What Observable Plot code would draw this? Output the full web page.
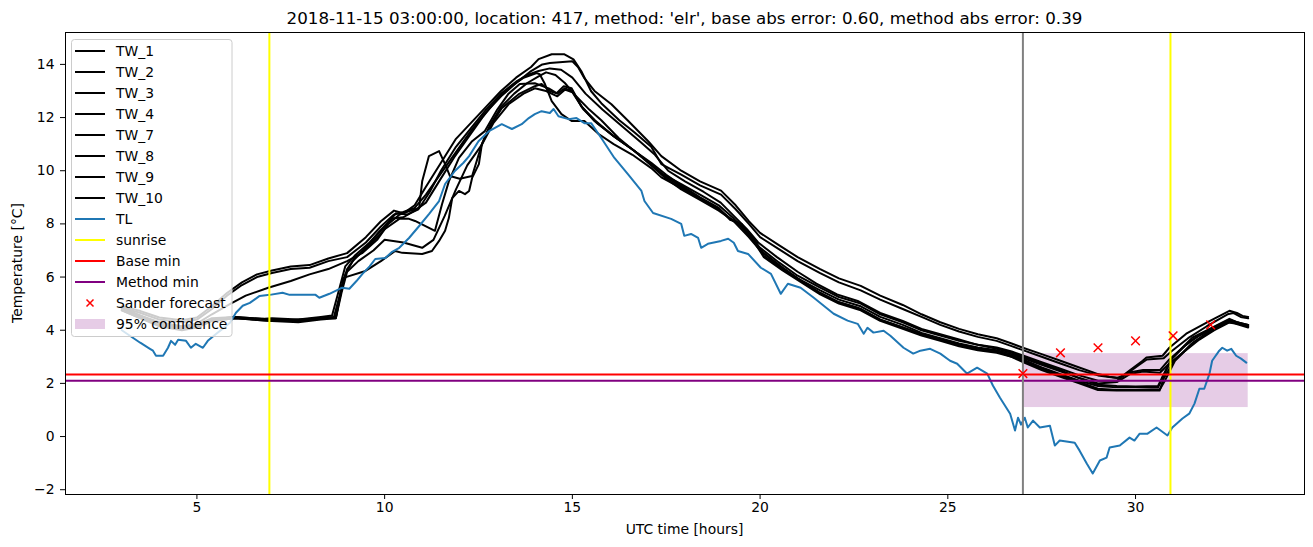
<!DOCTYPE html>
<html><head><meta charset="utf-8">
<script src="https://cdn.jsdelivr.net/npm/d3@7"></script>
<script src="https://cdn.jsdelivr.net/npm/@observablehq/plot@0.6"></script>
<style>
body{margin:0;background:#fff;}
#chart{width:1313px;height:547px;}
svg{font-family:"DejaVu Sans",sans-serif;}
</style>
</head><body><div id="chart"></div>
<script>
// ---- data: [hour, temperature] pairs per road-weather station series ----
const tw1 = [[3.0,4.85],[3.5,4.65],[4.0,4.4],[4.6,4.3],[5.0,4.4],[5.4,4.8],[5.8,5.3],[6.2,5.7],[6.6,6.0],[7.0,6.15],[7.5,6.3],[8.0,6.35],[8.5,6.6],[9.0,6.75],[9.5,7.3],[9.9,7.9],[10.25,8.35],[10.5,8.45],[10.8,8.6],[11.1,9.1],[11.5,9.9],[11.9,10.7],[12.3,11.5],[12.7,12.2],[13.1,12.8],[13.5,13.3],[13.9,13.75],[14.2,14.0],[14.4,14.05],[15.0,14.12],[15.15,13.9],[15.32,13.48],[15.59,13.0],[16.04,12.5],[16.49,11.87],[17.02,11.11],[17.37,10.55],[17.9,10.0],[18.4,9.6],[18.96,9.25],[19.35,8.7],[19.7,8.1],[20.0,7.66],[20.5,7.2],[21.0,6.75],[21.6,6.3],[22.1,5.95],[22.68,5.67],[23.2,5.3],[23.8,4.95],[24.3,4.6],[24.8,4.3],[25.3,4.05],[25.8,3.85],[26.3,3.7],[26.7,3.5],[27.0,3.34],[27.5,3.1],[28.0,2.85],[28.5,2.6],[29.0,2.35],[29.3,2.25],[29.58,2.2],[29.84,2.48],[30.19,2.85],[30.29,2.97],[30.72,3.04],[30.9,3.34],[31.35,3.87],[31.88,4.28],[32.5,4.73],[32.7,4.65],[32.85,4.54],[33.0,4.5]];
const tw2 = [[3.0,4.9],[3.5,4.72],[4.0,4.48],[4.6,4.38],[5.0,4.48],[5.4,4.9],[5.8,5.4],[6.2,5.8],[6.6,6.1],[7.0,6.25],[7.5,6.4],[8.0,6.45],[8.5,6.7],[9.0,6.9],[9.5,7.5],[9.9,8.1],[10.25,8.5],[10.5,8.4],[10.8,8.7],[11.1,9.4],[11.5,10.3],[11.9,11.2],[12.3,11.8],[12.7,12.4],[13.1,13.0],[13.5,13.5],[13.9,13.9],[14.1,14.2],[14.45,14.38],[14.79,14.38],[15.03,14.19],[15.24,13.74],[15.5,12.99],[15.77,12.54],[16.25,11.9],[16.65,11.45],[17.1,10.9],[17.37,10.25],[17.9,9.85],[18.4,9.45],[18.96,9.1],[19.35,8.55],[19.7,8.0],[20.0,7.5],[20.5,7.05],[21.0,6.6],[21.6,6.15],[22.1,5.8],[22.68,5.5],[23.2,5.15],[23.8,4.8],[24.3,4.5],[24.8,4.2],[25.3,3.95],[25.8,3.75],[26.3,3.6],[26.7,3.4],[27.0,3.25],[27.5,3.0],[28.0,2.75],[28.5,2.5],[29.0,2.3],[29.5,2.2],[29.75,2.35],[30.1,2.7],[30.3,2.9],[30.75,2.95],[30.95,3.2],[31.4,3.7],[31.9,4.15],[32.45,4.6],[32.6,4.65],[32.8,4.5],[33.0,4.45]];
const tw3 = [[3.0,4.8],[3.5,4.55],[4.0,4.3],[4.6,4.15],[5.0,4.25],[5.4,4.6],[5.9,5.0],[6.3,5.3],[6.9,5.6],[7.5,5.85],[8.0,6.1],[8.5,6.3],[9.0,6.6],[9.4,6.9],[9.8,7.4],[10.1,8.0],[10.4,8.35],[10.7,8.5],[10.92,8.6],[11.0,9.6],[11.18,10.55],[11.45,10.74],[11.61,10.25],[11.74,9.8],[12.0,9.7],[12.33,9.8],[12.59,11.0],[12.8,11.7],[13.1,12.4],[13.45,12.9],[13.8,13.3],[14.1,13.55],[14.3,13.7],[14.55,13.6],[14.8,13.3],[15.1,12.8],[15.45,12.3],[15.77,11.9],[16.23,11.23],[16.65,10.74],[17.1,10.25],[17.37,9.9],[17.9,9.5],[18.4,9.1],[18.9,8.7],[19.3,8.2],[19.7,7.6],[20.0,7.1],[20.5,6.55],[21.0,6.05],[21.6,5.6],[22.1,5.25],[22.68,5.0],[23.2,4.6],[23.8,4.3],[24.3,4.0],[24.8,3.8],[25.3,3.6],[25.8,3.45],[26.3,3.35],[26.7,3.2],[27.0,3.05],[27.5,2.8],[28.0,2.55],[28.5,2.3],[29.0,2.1],[29.5,2.1],[29.8,2.4],[30.2,2.5],[30.65,2.5],[30.9,2.9],[31.3,3.4],[31.7,3.8],[32.1,4.1],[32.5,4.35],[32.7,4.3],[33.0,4.2]];
const tw4 = [[3.0,4.8],[3.5,4.5],[4.0,4.25],[4.6,4.1],[5.0,4.15],[5.4,4.4],[6.0,4.5],[6.5,4.45],[7.0,4.4],[7.7,4.35],[8.3,4.45],[8.65,4.5],[8.8,5.3],[8.95,6.1],[9.15,6.6],[9.5,7.1],[9.85,7.7],[10.2,8.2],[10.5,8.25],[10.8,8.5],[11.1,8.8],[11.45,9.6],[11.85,10.5],[12.25,11.3],[12.6,12.0],[13.0,12.7],[13.4,13.2],[13.7,13.5],[14.05,13.67],[14.13,13.63],[14.27,13.26],[14.45,12.62],[14.71,12.13],[14.98,11.87],[15.32,11.87],[15.7,11.38],[16.1,11.0],[16.6,10.6],[17.1,10.1],[17.37,9.75],[17.9,9.35],[18.4,8.95],[18.9,8.55],[19.3,8.1],[19.7,7.5],[20.0,7.0],[20.5,6.45],[21.0,5.95],[21.6,5.5],[22.1,5.15],[22.68,4.9],[23.2,4.5],[23.8,4.2],[24.3,3.9],[24.8,3.7],[25.3,3.5],[25.8,3.35],[26.3,3.25],[26.7,3.1],[27.0,2.95],[27.5,2.7],[28.0,2.45],[28.5,2.2],[29.0,2.0],[29.5,2.05],[29.85,2.35],[30.2,2.45],[30.65,2.4],[30.9,2.75],[31.3,3.2],[31.7,3.65],[32.1,4.0],[32.5,4.3],[32.7,4.25],[33.0,4.15]];
const tw7 = [[3.0,4.75],[3.5,4.45],[4.0,4.2],[4.6,4.05],[5.0,4.1],[5.4,4.35],[6.0,4.45],[6.5,4.4],[7.0,4.35],[7.7,4.4],[8.3,4.45],[8.7,4.5],[8.85,5.5],[9.0,6.3],[9.2,6.7],[9.6,7.2],[10.0,7.8],[10.4,8.2],[10.65,8.19],[10.81,8.11],[11.34,7.74],[11.53,8.75],[11.71,9.6],[11.98,10.48],[12.33,11.11],[12.67,11.49],[13.0,12.3],[13.3,12.9],[13.6,13.26],[14.0,13.29],[14.37,13.1],[14.58,12.92],[14.77,13.18],[14.98,13.1],[15.24,12.43],[15.59,11.87],[16.1,11.3],[16.6,10.8],[17.1,10.3],[17.5,9.85],[17.9,9.45],[18.4,9.0],[18.9,8.6],[19.2,8.15],[19.5,8.0],[19.8,7.4],[20.1,6.9],[20.6,6.35],[21.1,5.85],[21.6,5.4],[22.1,5.05],[22.68,4.8],[23.2,4.4],[23.8,4.1],[24.3,3.85],[24.8,3.65],[25.3,3.45],[25.8,3.3],[26.3,3.2],[26.7,3.05],[27.0,2.9],[27.5,2.6],[28.0,2.35],[28.5,2.1],[29.0,1.9],[29.5,1.85],[30.0,1.85],[30.6,1.85],[30.72,2.2],[30.98,2.97],[31.51,3.72],[32.04,4.1],[32.5,4.43],[32.7,4.3],[32.95,4.17]];
const tw8 = [[3.0,4.8],[3.5,4.5],[4.0,4.2],[4.6,4.05],[5.0,4.15],[5.4,4.4],[6.0,4.5],[6.5,4.45],[7.0,4.4],[7.7,4.35],[8.3,4.45],[8.7,4.45],[8.85,5.4],[9.0,6.2],[9.3,6.6],[9.7,7.0],[10.0,7.4],[10.5,7.3],[11.0,7.1],[11.3,7.4],[11.6,8.3],[11.9,9.3],[12.2,10.2],[12.6,11.0],[12.9,11.8],[13.3,12.5],[13.7,12.9],[14.0,13.1],[14.3,13.0],[14.6,12.8],[14.8,13.05],[15.0,12.95],[15.3,12.3],[15.65,11.8],[16.15,11.25],[16.65,10.75],[17.1,10.2],[17.5,9.7],[17.9,9.3],[18.4,8.9],[18.9,8.5],[19.3,8.1],[19.5,7.9],[19.85,7.3],[20.1,6.75],[20.6,6.25],[21.1,5.8],[21.6,5.35],[22.1,5.0],[22.68,4.75],[23.2,4.35],[23.8,4.05],[24.3,3.8],[24.8,3.6],[25.3,3.4],[25.8,3.25],[26.3,3.15],[26.7,3.0],[27.0,2.85],[27.5,2.55],[28.0,2.3],[28.5,2.05],[29.0,1.8],[29.5,1.75],[30.0,1.75],[30.65,1.78],[30.8,2.15],[31.05,2.85],[31.55,3.55],[32.0,4.0],[32.5,4.35],[32.7,4.25],[33.0,4.15]];
const tw9 = [[3.0,4.85],[3.5,4.55],[4.0,4.25],[4.6,4.1],[5.0,4.2],[5.4,4.45],[6.0,4.5],[6.5,4.4],[7.0,4.45],[7.7,4.4],[8.3,4.5],[8.6,4.55],[8.8,5.6],[8.95,6.4],[9.2,6.8],[9.6,7.3],[10.0,7.9],[10.3,8.4],[10.6,8.35],[10.9,8.55],[11.2,9.2],[11.5,10.0],[11.9,10.9],[12.3,11.6],[12.7,12.3],[13.1,12.9],[13.5,13.35],[13.8,13.6],[14.1,13.75],[14.4,13.85],[14.7,13.8],[15.0,13.5],[15.35,12.9],[15.8,12.3],[16.3,11.7],[16.8,11.1],[17.2,10.6],[17.55,10.0],[18.0,9.6],[18.5,9.2],[18.95,8.8],[19.3,8.3],[19.65,7.8],[19.95,7.3],[20.45,6.75],[21.0,6.2],[21.5,5.75],[22.05,5.35],[22.6,5.1],[23.2,4.65],[23.8,4.35],[24.3,4.05],[24.8,3.85],[25.3,3.65],[25.8,3.45],[26.3,3.3],[26.7,3.15],[27.0,3.0],[27.5,2.75],[28.0,2.5],[28.5,2.2],[29.0,1.95],[29.5,1.9],[30.0,1.88],[30.6,1.9],[30.7,2.2],[30.95,2.9],[31.45,3.6],[32.0,4.05],[32.5,4.4],[32.7,4.3],[33.0,4.2]];
const tw10 = [[3.0,4.75],[3.5,4.45],[4.0,4.15],[4.6,4.0],[5.0,4.1],[5.4,4.35],[6.0,4.45],[6.5,4.4],[7.0,4.35],[7.7,4.3],[8.3,4.4],[8.7,4.45],[8.8,5.2],[8.9,5.97],[9.49,6.23],[9.9,6.6],[10.28,6.98],[10.47,6.91],[11.0,6.87],[11.26,6.98],[11.45,7.36],[11.61,7.74],[11.71,8.22],[11.8,8.97],[11.98,9.24],[12.14,9.12],[12.25,9.24],[12.33,9.73],[12.51,10.25],[12.59,11.0],[12.78,11.6],[13.12,12.35],[13.57,12.88],[14.0,13.18],[14.18,13.26],[14.4,13.0],[14.6,12.9],[14.8,13.1],[15.0,13.0],[15.25,12.4],[15.6,11.9],[16.1,11.3],[16.6,10.8],[17.05,10.3],[17.45,9.8],[17.9,9.4],[18.4,8.95],[18.9,8.55],[19.2,8.2],[19.5,8.0],[19.85,7.4],[20.1,6.8],[20.6,6.3],[21.1,5.85],[21.6,5.4],[22.1,5.05],[22.6,4.85],[23.2,4.4],[23.8,4.1],[24.3,3.85],[24.8,3.65],[25.3,3.45],[25.8,3.3],[26.3,3.2],[26.7,3.0],[27.0,2.8],[27.5,2.5],[28.0,2.25],[28.5,2.0],[29.0,1.75],[29.5,1.73],[30.0,1.73],[30.64,1.73],[30.75,2.18],[31.0,2.8],[31.5,3.5],[32.0,3.95],[32.45,4.3],[32.65,4.25],[33.0,4.1]];
const twNames = ["TW_1","TW_2","TW_3","TW_4","TW_7","TW_8","TW_9","TW_10"];
const twSeries = [tw1, tw2, tw3, tw4, tw7, tw8, tw9, tw10];

// air temperature TL
const tlHours = [3.0,3.49,3.75,3.83,3.91,4.10,4.23,4.31,4.42,4.50,4.71,4.84,4.97,5.16,5.29,5.5,5.69,5.88,6.04,6.22,6.41,6.67,6.94,7.28,7.47,8.16,8.26,8.53,8.87,9.06,9.25,9.41,9.6,9.75,10.02,10.2,10.39,10.65,10.92,11.18,11.45,11.61,11.87,12.1,12.25,12.5,12.78,13.12,13.39,13.65,13.84,14.0,14.18,14.4,14.5,14.63,14.9,15.11,15.32,15.5,15.77,16.12,16.49,16.84,16.92,17.15,17.63,17.9,17.98,18.16,18.35,18.43,18.61,18.96,19.15,19.3,19.41,19.68,20.02,20.29,20.55,20.74,21.08,21.43,21.96,22.33,22.6,22.76,22.86,23.02,23.29,23.47,23.82,24.08,24.27,24.53,24.8,25.06,25.25,25.51,25.78,26.05,26.2,26.39,26.55,26.66,26.79,26.87,26.95,27.05,27.13,27.27,27.45,27.72,27.85,27.98,28.38,28.51,28.7,28.86,29.05,29.23,29.31,29.58,29.84,29.97,30.11,30.32,30.56,30.85,30.98,31.25,31.43,31.57,31.7,31.83,31.97,32.04,32.23,32.31,32.44,32.55,32.68,32.81,32.95];
const tlTemps = [4.0,3.53,3.3,3.23,3.04,3.04,3.34,3.6,3.45,3.64,3.6,3.34,3.49,3.34,3.6,3.85,4.06,4.28,4.66,4.92,5.03,5.29,5.33,5.41,5.33,5.33,5.22,5.37,5.6,5.56,5.85,6.12,6.4,6.68,6.72,6.95,7.1,7.47,7.92,8.37,8.86,9.5,9.99,10.3,10.55,11.11,11.49,11.75,11.57,11.75,11.98,12.13,12.24,12.17,12.32,12.05,11.94,11.98,11.79,11.79,11.23,10.48,9.85,9.24,8.86,8.41,8.19,8.0,7.55,7.62,7.47,7.1,7.25,7.36,7.44,7.29,6.98,6.87,6.35,6.12,5.37,5.75,5.6,5.22,4.62,4.36,4.24,3.87,4.09,3.91,3.98,3.79,3.34,3.12,3.23,3.3,3.12,2.85,2.74,2.37,2.59,2.37,1.92,1.46,1.1,0.86,0.23,0.71,0.45,0.71,0.34,0.6,0.34,0.41,-0.34,-0.15,-0.23,-0.53,-1.01,-1.39,-0.9,-0.79,-0.41,-0.34,-0.04,-0.15,0.11,0.11,0.34,0.04,0.34,0.68,0.86,1.24,1.8,1.8,2.37,2.85,3.23,3.34,3.23,3.3,3.04,2.93,2.78];

const sunriseHours = [6.93, 30.93];
const forecastStartHour = [27];
const baseMin = [2.33];
const methodMin = [2.1];
const sanderHours = [27, 28, 29, 30, 31, 32];
const sanderTemps = [2.37, 3.15, 3.34, 3.6, 3.79, 4.2];
const confidence = [{start: 27, end: 33, low: 1.09, high: 3.12}];
const xTicks = [5, 10, 15, 20, 25, 30];
const yTicks = [-2, 0, 2, 4, 6, 8, 10, 12, 14];
const titleText = "2018-11-15 03:00:00, location: 417, method: 'elr', base abs error: 0.60, method abs error: 0.39";
const xLabel = "UTC time [hours]";
const yLabel = "Temperature [°C]";

const twData = twSeries.flatMap((s, i) => s.map(([h, t]) => ({name: twNames[i], h, t})));
const tlData = tlHours.map((h, i) => ({h, t: tlTemps[i]}));
const sanderData = sanderHours.map((h, i) => ({h, t: sanderTemps[i]}));

const FS = 13.9;
const W = 1313, H = 547, ML = 65, MR = 9, MT = 32, MB = 53;
const plot = Plot.plot({
  width: W, height: H, marginLeft: ML, marginRight: MR, marginTop: MT, marginBottom: MB,
  style: {fontFamily: "DejaVu Sans, sans-serif", fontSize: FS + "px", color: "black", background: "white", overflow: "visible"},
  x: {domain: [1.5, 34.5]},
  y: {domain: [-2.18, 15.2]},
  marks: [
    Plot.rect(confidence, {x1: "start", x2: "end", y1: "low", y2: "high", fill: "purple", fillOpacity: 0.2}),
    Plot.line(twData, {x: "h", y: "t", z: "name", stroke: "black", strokeWidth: 2}),
    Plot.line(tlData, {x: "h", y: "t", stroke: "#1f77b4", strokeWidth: 2}),
    Plot.ruleX(sunriseHours, {stroke: "yellow", strokeWidth: 2}),
    Plot.ruleY(baseMin, {stroke: "red", strokeWidth: 2}),
    Plot.ruleY(methodMin, {stroke: "purple", strokeWidth: 2}),
    Plot.ruleX(forecastStartHour, {stroke: "gray", strokeWidth: 2}),
    Plot.dot(sanderData, {x: "h", y: "t", symbol: "times", r: 4, stroke: "red", strokeWidth: 1.5}),
    Plot.axisX({ticks: xTicks, tickSize: 5, tickPadding: 3, label: null, fontSize: FS}),
    Plot.axisY({ticks: yTicks, tickSize: 5, tickPadding: 6, label: null, fontSize: FS}),
    Plot.frame({stroke: "black", strokeWidth: 1})
  ]
});
document.getElementById("chart").appendChild(plot);

const svg = d3.select(plot);
svg.append("text").attr("x", (ML + W - MR) / 2).attr("y", 24).attr("text-anchor", "middle")
  .attr("font-size", 16.7).attr("fill", "black").text(titleText);
svg.append("text").attr("x", (ML + W - MR) / 2).attr("y", 534).attr("text-anchor", "middle")
  .attr("font-size", FS).attr("fill", "black").text(xLabel);
svg.append("text").attr("transform", `translate(22,${(MT + H - MB) / 2}) rotate(-90)`).attr("text-anchor", "middle")
  .attr("font-size", FS).attr("fill", "black").text(yLabel);

// legend
const legendItems = [
  ...twNames.map(n => ({label: n, type: "line", color: "black"})),
  {label: "TL", type: "line", color: "#1f77b4"},
  {label: "sunrise", type: "line", color: "yellow"},
  {label: "Base min", type: "line", color: "red"},
  {label: "Method min", type: "line", color: "purple"},
  {label: "Sander forecast", type: "x", color: "red"},
  {label: "95% confidence", type: "patch", color: "purple"}
];
const lg = svg.append("g");
lg.append("rect").attr("x", 71.5).attr("y", 39.5).attr("width", 160.5).attr("height", 297)
  .attr("rx", 3).attr("fill", "white").attr("fill-opacity", 0.8).attr("stroke", "#cccccc").attr("stroke-width", 1);
legendItems.forEach((d, i) => {
  const cy = 51 + i * 21;
  if (d.type === "line") {
    lg.append("line").attr("x1", 75).attr("x2", 105).attr("y1", cy).attr("y2", cy).attr("stroke", d.color).attr("stroke-width", 2);
  } else if (d.type === "x") {
    const s = 3.5;
    lg.append("path").attr("d", `M${90 - s},${cy - s}L${90 + s},${cy + s}M${90 - s},${cy + s}L${90 + s},${cy - s}`)
      .attr("stroke", d.color).attr("stroke-width", 1.5);
  } else {
    lg.append("rect").attr("x", 75).attr("y", cy - 5).attr("width", 30).attr("height", 10).attr("fill", d.color).attr("fill-opacity", 0.2);
  }
  lg.append("text").attr("x", 116).attr("y", cy).attr("dy", "0.35em").attr("text-anchor", "start")
    .attr("font-size", FS).attr("fill", "black").text(d.label);
});
</script>
</body></html>
